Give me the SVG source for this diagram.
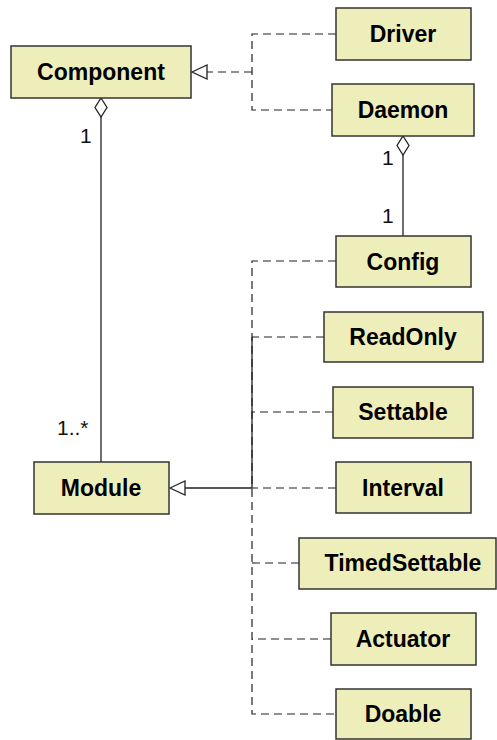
<svg xmlns="http://www.w3.org/2000/svg" width="497" height="740" viewBox="0 0 497 740">
<style>
.box{fill:#EEEEBB;stroke:#333;stroke-width:1.5}
.lbl{font-family:"Liberation Sans",Arial,sans-serif;font-weight:bold;font-size:23px;fill:#000;text-anchor:middle}
.mult{font-family:"Liberation Sans",Arial,sans-serif;font-size:21px;fill:#111}
.dash{fill:none;stroke:#222;stroke-width:1.2;stroke-dasharray:8 5}
.solid{fill:none;stroke:#222;stroke-width:1.3}
.head{fill:#fff;stroke:#222;stroke-width:1.3}
</style>
<g id="connectors">
<path class="dash" d="M336,34 H252 V110 H332"/>
<path class="dash" d="M252,72 H207"/>
<polygon class="head" points="192,72 207,65 207,79"/>
<path class="solid" d="M101,117 V462"/>
<polygon class="head" points="101,98 107,107.5 101,117 95,107.5"/>
<path class="solid" d="M403,155 V236"/>
<polygon class="head" points="403,136 409,145.5 403,155 397,145.5"/>
<path class="dash" d="M336,261 H252 V714 H336"/>
<path class="dash" d="M324,337 H252"/>
<path class="dash" d="M333,412 H252"/>
<path class="dash" d="M336,488 H252"/>
<path class="dash" d="M299,563 H252"/>
<path class="dash" d="M331,639 H252"/>
<path class="solid" d="M252,337 V488 H185"/>
<polygon class="head" points="170,488 185,481 185,495"/>
<text class="mult" x="80" y="143">1</text>
<text class="mult" x="382" y="165">1</text>
<text class="mult" x="382" y="223">1</text>
<text class="mult" x="57" y="435">1..*</text>
</g>
<g id="Component"><rect class="box" x="11" y="46" width="180" height="52"/><text class="lbl" x="101" y="80">Component</text></g>
<g id="Driver"><rect class="box" x="336" y="8" width="135" height="52"/><text class="lbl" x="403" y="42">Driver</text></g>
<g id="Daemon"><rect class="box" x="332" y="84" width="142" height="52"/><text class="lbl" x="403" y="118">Daemon</text></g>
<g id="Config"><rect class="box" x="336" y="236" width="135" height="51"/><text class="lbl" x="403" y="269.5">Config</text></g>
<g id="ReadOnly"><rect class="box" x="324" y="312" width="159" height="50"/><text class="lbl" x="403" y="345">ReadOnly</text></g>
<g id="Settable"><rect class="box" x="333" y="387" width="140" height="51"/><text class="lbl" x="403" y="420">Settable</text></g>
<g id="Interval"><rect class="box" x="336" y="462" width="135" height="51"/><text class="lbl" x="403" y="496">Interval</text></g>
<g id="TimedSettable"><rect class="box" x="299" y="538" width="197" height="51"/><text class="lbl" x="403" y="571">TimedSettable</text></g>
<g id="Actuator"><rect class="box" x="331" y="613" width="145" height="52"/><text class="lbl" x="403" y="647">Actuator</text></g>
<g id="Doable"><rect class="box" x="336" y="689" width="135" height="50"/><text class="lbl" x="403" y="722">Doable</text></g>
<g id="Module"><rect class="box" x="34" y="462" width="135" height="52"/><text class="lbl" x="101" y="496">Module</text></g>
</svg>
